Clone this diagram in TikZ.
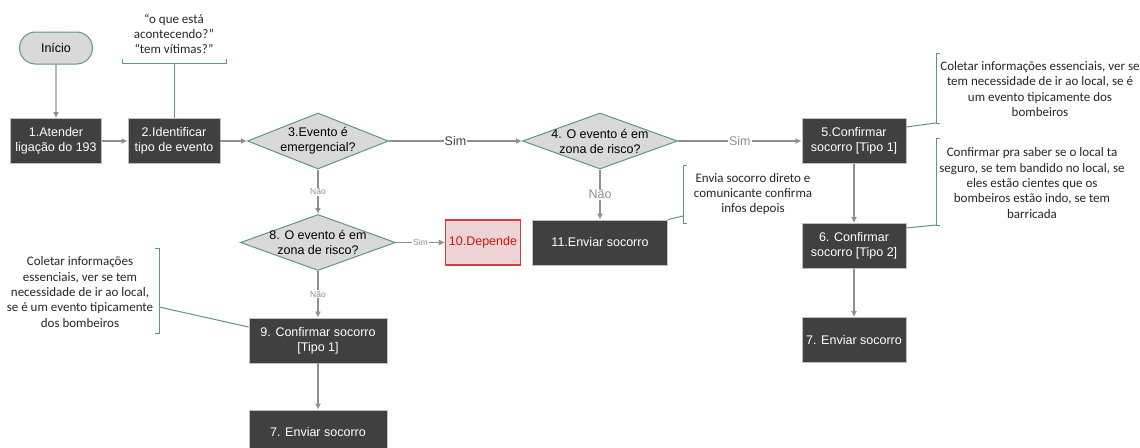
\documentclass[tikz,border=0pt]{standalone}
\usepackage{fontspec}
\setmainfont{Liberation Sans}
\newfontfamily\notefont{Carlito}
\usetikzlibrary{positioning, shapes.geometric, shapes.misc, arrows.meta}
\definecolor{boxgray}{HTML}{404040}
\definecolor{boxline}{HTML}{BFBFBF}
\definecolor{decfill}{HTML}{D9D9D9}
\definecolor{tealline}{HTML}{5F9586}
\definecolor{flowgray}{HTML}{8F8F8F}
\definecolor{redfill}{HTML}{EDD3D3}
\definecolor{redline}{HTML}{D83A3A}
\definecolor{redtext}{HTML}{D01414}
\tikzset{
	stepnode/.style={
			rectangle,
			draw=boxline,
			fill=boxgray,
			text=white,
			line width=0.8pt,
			minimum width=104pt,
			minimum height=45pt,
			inner sep=0pt,
			align=center,
			font=\fontsize{12.5}{15}\selectfont
		},
	startnode/.style={
			rounded rectangle,
			draw=tealline,
			fill=decfill,
			line width=1pt,
			minimum width=73pt,
			minimum height=32pt,
			inner sep=0pt,
			font=\fontsize{12.5}{15}\selectfont
		},
	decisionnode/.style={
			diamond,
			draw=tealline,
			fill=decfill,
			line width=1pt,
			inner sep=-30pt,
			minimum width=155pt,
			minimum height=56pt,
			align=center,
			font=\fontsize{12.5}{15}\selectfont
		},
	dependnode/.style={
			stepnode,
			draw=redline,
			fill=redfill,
			text=redtext,
			line width=1.2pt
		},
	flow/.style={
			draw=flowgray,
			line width=1.4pt,
			-{Latex[length=6pt,width=6pt]}
		},
	flowlabel/.style={
			fill=white,
			inner sep=1pt,
			text=flowgray,
			font=\fontsize{12.5}{14}\selectfont
		},
	smalllabel/.style={
			flowlabel,
			font=\fontsize{8.5}{10}\selectfont
		},
	bracket/.style={
			draw=tealline,
			line width=1pt
		},
	notetext/.style={
			align=center,
			text=black!85,
			font=\notefont\fontsize{13}{15.3}\selectfont
		}
}

\begin{document}
\begin{tikzpicture}[x=1pt, y=-1pt]
\useasboundingbox (0,0) rectangle (1140,447);

\node[startnode] (n0) at (56,48) {Início};
\node[stepnode, minimum width=91pt] (n1) at (56,141) {1.Atender\\ligação do 193};
\node[stepnode, minimum width=92pt] (n2) at (174,141) {2.Identificar\\tipo de evento};
\node[decisionnode, minimum width=141pt] (n3) at (318,141) {3.Evento é\\emergencial?};
\node[decisionnode] (n4) at (600,141) {4. O evento é em\\zona de risco?};
\node[stepnode] (n5) at (854,141) {5.Confirmar\\socorro [Tipo 1]};
\node[stepnode] (n6) at (854,246) {6. Confirmar\\socorro [Tipo 2]};
\node[stepnode] (n7r) at (854,340) {7. Enviar socorro};
\node[decisionnode] (n8) at (318,242.5) {8. O evento é em\\zona de risco?};
\node[dependnode, minimum width=75pt] (n10) at (483,242.5) {10.Depende};
\node[stepnode, minimum width=135pt] (n11) at (600,242.5) {11.Enviar socorro};
\node[stepnode, minimum width=138pt] (n9) at (318,340.5) {9. Confirmar socorro\\{}[Tipo 1]};
\node[stepnode, minimum width=138pt] (n7b) at (318,432.5) {7. Enviar socorro};

\draw[flow] (n0) -- (n1);
\draw[flow] (n1) -- (n2);
\draw[flow] (n2) -- (n3);
\draw[flow] (n3) -- node[flowlabel, text=boxgray] {Sim} (n4);
\draw[flow] (n4) -- node[flowlabel] {Sim} (n5);
\draw[flow] (n3) -- node[smalllabel] {Não} (n8);
\draw[flow] (n4) -- node[flowlabel] {Não} (n11);
\draw[flow] (n8) -- node[smalllabel] {Sim} (n10);
\draw[flow] (n8) -- node[smalllabel] {Não} (n9);
\draw[flow] (n9) -- (n7b);
\draw[flow] (n5) -- (n6);
\draw[flow] (n6) -- (n7r);

% notes
\node[notetext] (t2) at (174,34) {“o que está\\acontecendo?”\\“tem vítimas?”};
\coordinate (b2) at (174,63);
\draw[bracket] (122,59) -- (122,63) -- (226,63) -- (226,59);
\draw[bracket] (n2.north) -- (b2);

\node[notetext] (t5) at (1040,89) {Coletar informações essenciais, ver se\\tem necessidade de ir ao local, se é\\um evento tipicamente dos\\bombeiros};
\coordinate (b5) at (936,123);
\draw[bracket] (940,53) -- (936,53) -- (936,123) -- (940,123);
\draw[bracket] (n5.15) -- (b5);

\node[notetext] (t6) at (1032,183) {Confirmar pra saber se o local ta\\seguro, se tem bandido no local, se\\eles estão cientes que os\\bombeiros estão indo, se tem\\barricada};
\coordinate (b6) at (936,225);
\draw[bracket] (940,138) -- (936,138) -- (936,225) -- (940,225);
\draw[bracket] (n6.19) -- (b6);

\node[notetext] (t11) at (753,194) {Envia socorro direto e\\comunicante confirma\\infos depois};
\coordinate (b11) at (683,216);
\draw[bracket] (687,165) -- (683,165) -- (683,223) -- (687,223);
\draw[bracket] (n11.north east) -- (b11);

\node[notetext] (t9) at (80,292) {Coletar informações\\essenciais, ver se tem\\necessidade de ir ao local,\\se é um evento tipicamente\\dos bombeiros};
\coordinate (b9) at (159,307);
\draw[bracket] (155,248) -- (159,248) -- (159,333) -- (155,333);
\draw[bracket] (n9.169) -- (b9);
\end{tikzpicture}
\end{document}
